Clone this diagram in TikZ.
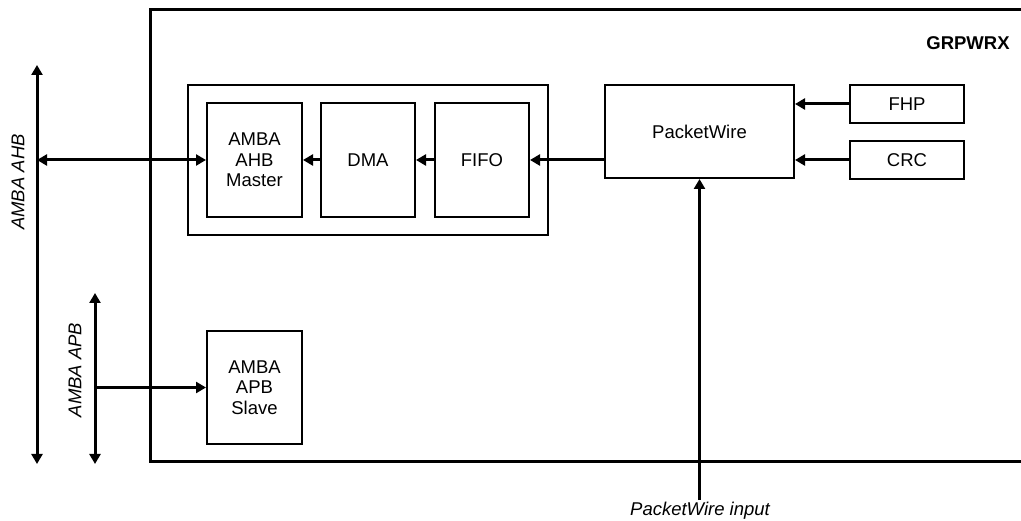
\documentclass[tikz,border=0pt]{standalone}
\usepackage{fontspec}
\setmainfont{Liberation Sans}
\usetikzlibrary{arrows.meta}
\begin{document}
\begin{tikzpicture}[x=1pt,y=-1pt,
  font=\fontsize{18.5}{20.5}\selectfont,
  box/.style={draw,line width=2pt,inner sep=0pt,align=center},
  conn/.style={line width=3pt,-{Triangle[length=10pt,width=11pt]}},
  bconn/.style={line width=3pt,{Triangle[length=10pt,width=11pt]}-{Triangle[length=10pt,width=11pt]}},
  lbl/.style={inner sep=0pt,font=\fontsize{18.5}{20.5}\selectfont\itshape}]
\clip (0,0) rectangle (1021,521);
% main block
\draw[line width=3pt] (1040,10) -- (150,10) -- (150,462) -- (1040,462);
\node[inner sep=0pt,font=\fontsize{18.5}{20.5}\selectfont\bfseries] (title) at (968,43) {GRPWRX};
% group
\node[box,minimum width=360pt,minimum height=150pt] (grp) at (368,160) {};
\node[box,minimum width=95pt,minimum height=114pt] (master) at (254.5,160) {AMBA\\AHB\\Master};
\node[box,minimum width=94pt,minimum height=114pt] (dma) at (368,160) {DMA};
\node[box,minimum width=94pt,minimum height=114pt] (fifo) at (482,160) {FIFO};
\node[box,minimum width=189pt,minimum height=93pt] (pw) at (699.5,131.5) {PacketWire};
\node[box,minimum width=114pt,minimum height=38pt] (fhp) at (907,104) {FHP};
\node[box,minimum width=114pt,minimum height=38pt] (crc) at (907,160) {CRC};
\node[box,minimum width=95pt,minimum height=113pt] (slave) at (254.5,387.5) {AMBA\\APB\\Slave};
% internal connectors
\draw[conn] (dma.west) -- (master.east);
\draw[conn] (fifo.west) -- (dma.east);
\draw[conn] (pw.west |- fifo.east) -- (fifo.east);
\draw[conn] (fhp.west) -- (fhp.west -| pw.east);
\draw[conn] (crc.west) -- (crc.west -| pw.east);
% packetwire input
\coordinate (pin) at (699.5,500);
\draw[conn] (pin) -- (pw.south);
\node[lbl,anchor=north] (pinlbl) at (700,502) {PacketWire input};
% AHB bus
\coordinate (ahbtop) at (37,65);
\coordinate (ahbbot) at (37,464);
\coordinate (ahbtap) at (37,160);
\draw[bconn] (ahbbot) -- (ahbtop);
\draw[bconn] (ahbtap) -- (master.west);
\node[lbl,rotate=90] (ahblbl) at (18,182) {AMBA AHB};
% APB bus
\coordinate (apbtop) at (95,293);
\coordinate (apbbot) at (95,464);
\coordinate (apbtap) at (95,387.5);
\draw[bconn] (apbbot) -- (apbtop);
\draw[conn] (apbtap) -- (slave.west);
\node[lbl,rotate=90] (apblbl) at (75,370) {AMBA APB};
\end{tikzpicture}
\end{document}
